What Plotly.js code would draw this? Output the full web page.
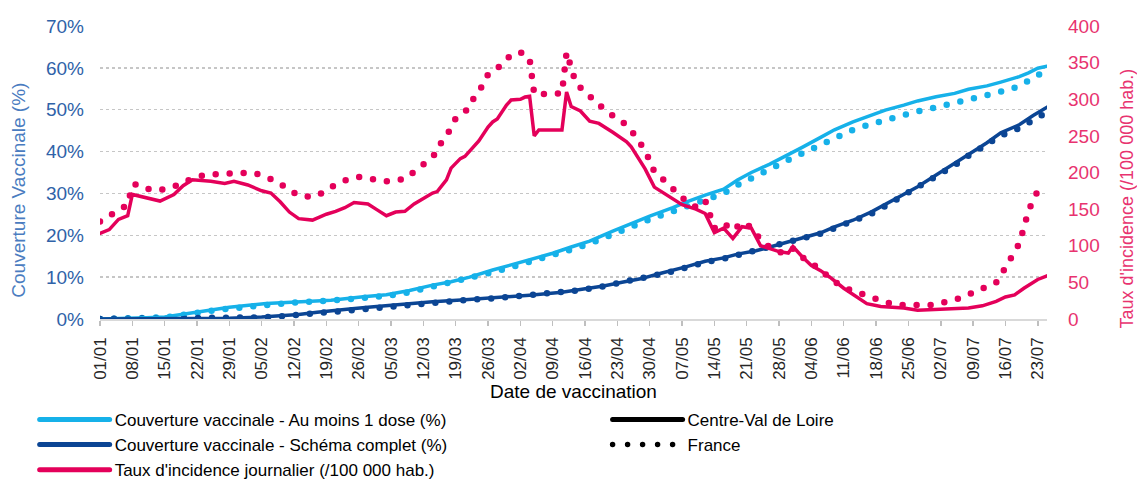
<!DOCTYPE html>
<html>
<head>
<meta charset="utf-8">
<script src="https://cdn.plot.ly/plotly-3.0.1.min.js"></script>
<style>
html,body{margin:0;padding:0;background:#fff;}
#chart{width:1137px;height:482px;}
path.js-line{stroke-linecap:round;}
</style>
</head>
<body>
<div id="chart"></div>
<script>
// ---- Data ----
const incCVLDates = ['2021-01-01','2021-01-03','2021-01-05','2021-01-07','2021-01-08','2021-01-11','2021-01-14','2021-01-17','2021-01-19','2021-01-21','2021-01-25','2021-01-28','2021-01-30','2021-02-02','2021-02-05','2021-02-07','2021-02-09','2021-02-11','2021-02-13','2021-02-16','2021-02-19','2021-02-21','2021-02-23','2021-02-25','2021-02-28','2021-03-02','2021-03-04','2021-03-06','2021-03-08','2021-03-10','2021-03-12','2021-03-14','2021-03-15','2021-03-17','2021-03-18','2021-03-20','2021-03-21','2021-03-23','2021-03-24','2021-03-26','2021-03-27','2021-03-28','2021-03-30','2021-03-31','2021-04-02','2021-04-03','2021-04-04','2021-04-05','2021-04-06','2021-04-11','2021-04-12','2021-04-13','2021-04-15','2021-04-17','2021-04-19','2021-04-22','2021-04-25','2021-04-26','2021-04-29','2021-05-01','2021-05-04','2021-05-07','2021-05-10','2021-05-12','2021-05-14','2021-05-16','2021-05-18','2021-05-20','2021-05-22','2021-05-24','2021-05-26','2021-05-28','2021-05-30','2021-05-31','2021-06-02','2021-06-04','2021-06-06','2021-06-08','2021-06-11','2021-06-13','2021-06-16','2021-06-19','2021-06-24','2021-06-27','2021-07-01','2021-07-05','2021-07-08','2021-07-11','2021-07-14','2021-07-16','2021-07-18','2021-07-20','2021-07-22','2021-07-23','2021-07-25'];
const incCVL = [117,122,136,141,170,165,161,170,182,190,188,185,188,183,175,172,160,146,137,135,143,147,152,159,157,149,141,146,147,157,164,172,174,190,206,219,222,236,243,262,269,273,292,299,300,303,304,250,258,258,310,290,284,270,267,255,242,235,205,180,168,156,150,144,118,124,110,126,124,100,96,92,90,99,85,73,66,57,42,34,21,17,15,12,13,15,15,18,24,30,33,42,50,54,59];

const incFRDates = ['2021-01-01','2021-01-04','2021-01-06','2021-01-07','2021-01-08','2021-01-09','2021-01-12','2021-01-15','2021-01-18','2021-01-21','2021-01-24','2021-01-27','2021-01-31','2021-02-03','2021-02-06','2021-02-09','2021-02-11','2021-02-14','2021-02-17','2021-02-20','2021-02-23','2021-02-26','2021-03-01','2021-03-04','2021-03-08','2021-03-10','2021-03-13','2021-03-15','2021-03-16','2021-03-18','2021-03-19','2021-03-22','2021-03-23','2021-03-25','2021-03-26','2021-03-29','2021-03-31','2021-04-02','2021-04-03','2021-04-04','2021-04-05','2021-04-08','2021-04-11','2021-04-12','2021-04-13','2021-04-14','2021-04-16','2021-04-18','2021-04-20','2021-04-23','2021-04-25','2021-04-27','2021-04-29','2021-04-30','2021-05-01','2021-05-03','2021-05-06','2021-05-08','2021-05-10','2021-05-12','2021-05-14','2021-05-16','2021-05-18','2021-05-20','2021-05-22','2021-05-24','2021-05-26','2021-05-29','2021-05-31','2021-06-03','2021-06-06','2021-06-08','2021-06-11','2021-06-14','2021-06-17','2021-06-20','2021-06-23','2021-06-27','2021-06-30','2021-07-03','2021-07-06','2021-07-09','2021-07-12','2021-07-14','2021-07-16','2021-07-17','2021-07-19','2021-07-20','2021-07-21','2021-07-22','2021-07-24'];
const incFR = [133,143,152,156,183,184,176,177,183,192,197,198,199,200,194,185,175,167,168,180,189,194,191,188,191,200,216,228,243,260,274,288,303,320,334,347,361,364,362,355,307,307,308,364,340,322,310,298,287,273,265,249,230,216,201,190,172,160,153,162,124,131,121,132,125,108,98,89,96,79,68,55,43,36,28,23,19,18,19,23,28,36,44,50,70,82,103,125,148,162,188];

const dose1Dates = ['2021-01-01','2021-01-08','2021-01-11','2021-01-15','2021-01-18','2021-01-20','2021-01-22','2021-01-29','2021-02-06','2021-02-13','2021-02-20','2021-02-27','2021-03-04','2021-03-09','2021-03-14','2021-03-18','2021-03-22','2021-03-27','2021-03-31','2021-04-04','2021-04-09','2021-04-13','2021-04-17','2021-04-22','2021-04-26','2021-04-30','2021-05-05','2021-05-08','2021-05-12','2021-05-16','2021-05-19','2021-05-22','2021-05-26','2021-05-30','2021-06-02','2021-06-06','2021-06-09','2021-06-13','2021-06-17','2021-06-20','2021-06-24','2021-06-27','2021-07-01','2021-07-05','2021-07-08','2021-07-12','2021-07-15','2021-07-19','2021-07-21','2021-07-23','2021-07-25'];
const dose1CVL = [0,0.1,0.3,0.5,1.0,1.5,1.8,2.8,3.7,4.2,4.5,5.3,5.8,6.8,8.1,8.9,10.0,11.7,12.9,14.1,15.7,17.2,18.6,21.0,22.8,24.6,26.6,28.0,29.6,31.0,33.2,35.0,37.0,39.2,41.0,43.4,45.2,47.1,48.6,49.9,51.1,52.1,53.1,53.9,54.9,55.7,56.6,57.9,58.8,59.9,60.4];
const dose1FR  = [0,0.1,0.2,0.4,0.8,1.2,1.5,2.5,3.4,4.0,4.4,5.0,5.5,6.4,7.7,8.5,9.6,11.2,12.4,13.6,15.2,16.6,18.0,20.4,22.0,23.8,25.8,27.0,28.6,30.0,32.0,33.8,35.8,38.0,39.6,41.6,43.4,45.2,46.6,47.6,48.7,49.6,50.6,51.6,52.4,53.2,54.3,55.6,56.8,58.3,59.0];

const fullDates = ['2021-01-01','2021-01-15','2021-01-29','2021-02-05','2021-02-10','2021-02-13','2021-02-17','2021-02-20','2021-02-24','2021-02-28','2021-03-06','2021-03-10','2021-03-14','2021-03-21','2021-03-28','2021-04-04','2021-04-11','2021-04-15','2021-04-20','2021-04-24','2021-04-28','2021-05-02','2021-05-05','2021-05-08','2021-05-12','2021-05-16','2021-05-19','2021-05-23','2021-05-27','2021-05-30','2021-06-02','2021-06-06','2021-06-09','2021-06-13','2021-06-17','2021-06-20','2021-06-24','2021-06-27','2021-07-01','2021-07-05','2021-07-08','2021-07-12','2021-07-15','2021-07-19','2021-07-22','2021-07-25'];
const fullCVL = [0,0.1,0.2,0.5,0.8,1.1,1.6,2.0,2.4,2.8,3.4,3.8,4.1,4.6,5.1,5.7,6.4,7.0,7.9,8.8,9.6,10.8,11.6,12.5,13.8,14.6,15.5,16.3,17.5,18.4,19.4,20.6,22.0,23.6,25.6,27.4,30.0,31.6,34.4,37.2,39.5,42.1,44.5,46.4,48.6,50.6];
const fullFR  = [0,0.1,0.2,0.4,0.7,1.0,1.5,1.9,2.3,2.7,3.3,3.7,4.0,4.5,5.0,5.6,6.3,6.9,7.8,8.7,9.5,10.6,11.4,12.3,13.6,14.4,15.3,16.1,17.3,18.2,19.2,20.4,21.7,23.3,25.2,27.0,29.6,31.2,33.9,36.7,39.0,41.6,43.8,45.6,47.6,49.4];

const legendNames = ['Couverture vaccinale - Au moins 1 dose (%)','Couverture vaccinale - Schéma complet (%)',"Taux d'incidence journalier (/100 000 hab.)"];
const regionNames = ['Centre-Val de Loire','France'];

// ---- Styles ----
const C_LIGHT = '#16b1e9';
const C_DARK = '#0b4594';
const C_PINK = '#e4005a';
const SOLID_W = 3.5;
const DOT_W = 6.5;
const DOT_DASH = '0px,14px';
const FONT = '"Liberation Sans", Arial, sans-serif';

const traces = [
  {x: dose1Dates, y: dose1FR, mode:'lines', line:{color:C_LIGHT, width:DOT_W, dash:DOT_DASH}, showlegend:false, hoverinfo:'skip'},
  {x: fullDates, y: fullFR, mode:'lines', line:{color:C_DARK, width:DOT_W, dash:DOT_DASH}, showlegend:false, hoverinfo:'skip'},
  {x: dose1Dates, y: dose1CVL, mode:'lines', line:{color:C_LIGHT, width:SOLID_W}, showlegend:false},
  {x: fullDates, y: fullCVL, mode:'lines', line:{color:C_DARK, width:SOLID_W}, showlegend:false},
  {x: incFRDates, y: incFR, yaxis:'y2', mode:'lines', line:{color:C_PINK, width:DOT_W, dash:DOT_DASH}, showlegend:false, hoverinfo:'skip'},
  {x: incCVLDates, y: incCVL, yaxis:'y2', mode:'lines', line:{color:C_PINK, width:SOLID_W}, showlegend:false},
  // legend-only entries
  {x:[null], y:[null], mode:'lines', name:legendNames[0], line:{color:C_LIGHT, width:5}, legend:'legend'},
  {x:[null], y:[null], mode:'lines', name:legendNames[1], line:{color:C_DARK, width:5}, legend:'legend'},
  {x:[null], y:[null], mode:'lines', name:legendNames[2], line:{color:C_PINK, width:5}, legend:'legend'},
  {x:[null], y:[null], mode:'lines', name:regionNames[0], line:{color:'#000', width:5}, legend:'legend2'},
  {x:[null], y:[null], mode:'lines', name:regionNames[1], line:{color:'#000', width:5.5, dash:'0px,15px'}, legend:'legend2'}
];

const layout = {
  width:1137, height:482,
  margin:{l:100, r:90, t:26, b:163, autoexpand:false},
  paper_bgcolor:'#fff', plot_bgcolor:'#fff',
  font:{family:FONT, color:'#000'},
  xaxis:{
    type:'date',
    range:['2021-01-01','2021-07-25'],
    tick0:'2021-01-01', dtick:7*86400000,
    tickformat:'%d/%m', tickangle:-90,
    tickfont:{size:17, color:'#262626'},
    ticks:'outside', ticklen:5, tickcolor:'#bfbfbf', tickwidth:1.5,
    showline:true, linecolor:'#d9d9d9', linewidth:1.5,
    showgrid:false, zeroline:false,
    ticklabelstandoff:5,
    title:{text:'Date de vaccination', font:{size:19, color:'#000'}, standoff:6}
  },
  yaxis:{
    range:[0,70], dtick:10, ticksuffix:'%',
    tickfont:{size:19, color:'#2f62a8'},
    showgrid:true, gridcolor:'#c6c6c6', griddash:'dot', gridwidth:1.3,
    zeroline:false, showline:false, ticks:'',
    ticklabelstandoff:15
  },
  yaxis2:{
    overlaying:'y', side:'right',
    range:[0,400], dtick:50,
    tickfont:{size:19, color:'#e8336f'},
    showgrid:false, zeroline:false, showline:false, ticks:'',
    ticklabelstandoff:20
  },
  legend:{
    x:-0.069, xanchor:'left', y:-0.283, yanchor:'top',
    orientation:'v', traceorder:'normal',
    font:{size:17, color:'#000', family:FONT}, itemwidth:70,
    bgcolor:'rgba(0,0,0,0)', borderwidth:0
  },
  legend2:{
    x:0.536, xanchor:'left', y:-0.283, yanchor:'top',
    orientation:'v', traceorder:'normal',
    font:{size:17, color:'#000', family:FONT}, itemwidth:70,
    bgcolor:'rgba(0,0,0,0)', borderwidth:0
  },
  annotations:[
    {text:'Couverture Vaccinale (%)', textangle:-90, xref:'paper', yref:'paper', x:-0.087, y:0.44, xanchor:'center', yanchor:'middle', showarrow:false, font:{size:19, color:'#4a7cc0', family:FONT}},
    {text:"Taux d'incidence (/100 000 hab.)", textangle:-90, xref:'paper', yref:'paper', x:1.084, y:0.41, xanchor:'center', yanchor:'middle', showarrow:false, font:{size:18, color:'#e8336f', family:FONT}}
  ],
  showlegend:true
};

Plotly.newPlot('chart', traces, layout, {displayModeBar:false, staticPlot:true});
</script>
</body>
</html>
